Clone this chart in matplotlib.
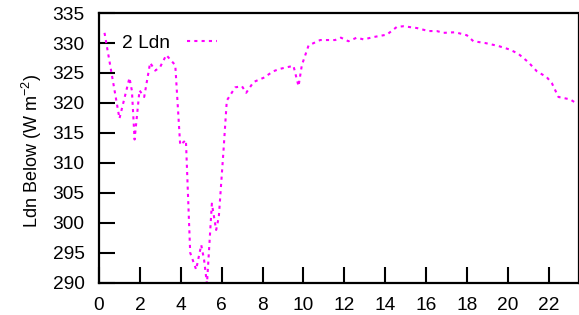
import matplotlib

matplotlib.use("Agg")
import matplotlib.pyplot as plt

# -----------------------------------------------------------------------------
# Data
# -----------------------------------------------------------------------------

hours = [
    0.27, 1.0, 1.49, 1.61, 1.74, 1.98, 2.21, 2.5, 2.75, 2.99, 3.29, 3.73,
    3.97, 4.25, 4.46, 4.75, 5.0, 5.14, 5.28, 5.52, 5.73, 5.86, 6.09, 6.25,
    6.66, 6.99, 7.2, 7.56, 8.05, 8.53, 8.86, 9.51, 9.76, 9.92, 10.25, 10.82,
    11.55, 11.83, 12.2, 12.61, 12.94, 13.43, 14.08, 14.57, 14.89, 15.55,
    16.11, 16.52, 16.85, 17.42, 17.99, 18.31, 18.89, 19.54, 20.1, 20.51,
    21.0, 21.41, 21.9, 22.15, 22.47, 23.04, 23.37,
]
ldn_below = [
    331.7, 317.4, 324.2, 322.0, 313.9, 322.1, 321.0, 326.7, 325.4, 326.0,
    328.0, 326.3, 313.0, 313.8, 295.0, 292.2, 296.3, 293.8, 289.8, 303.2,
    298.8, 301.0, 312.1, 320.4, 322.6, 322.8, 321.7, 323.5, 324.2, 325.3,
    325.7, 326.2, 322.8, 326.3, 329.6, 330.5, 330.5, 330.9, 330.3, 330.9,
    330.6, 331.0, 331.4, 332.7, 332.8, 332.5, 332.0, 332.0, 331.7, 331.8,
    331.3, 330.3, 330.0, 329.5, 328.9, 328.2, 326.8, 325.3, 324.3, 323.3,
    321.0, 320.6, 319.9,
]

X_TICKS = list(range(0, 23, 2))
Y_TICKS = list(range(290, 336, 5))

FONT_SIZE = 13.8
LABEL_SIZE = 13
LINE_COLOR = "#ff00ff"

plt.rcParams["font.family"] = ["Liberation Sans", "DejaVu Sans"]
plt.rcParams["mathtext.fontset"] = "custom"
plt.rcParams["mathtext.rm"] = "Liberation Sans"
plt.rcParams["mathtext.it"] = "Liberation Sans"

fig = plt.figure(figsize=(5.79, 3.15), dpi=100)
ax = fig.add_axes([0.171, 0.1025, 0.827, 0.856])

ax.plot(
    hours,
    ldn_below,
    color=LINE_COLOR,
    linewidth=1.5,
    linestyle=(0, (1.5, 2.0)),
    label="2 Ldn",
)

ax.set_xlim(0, 23.42)
ax.set_ylim(290, 335)
ax.set_xticks(X_TICKS)
ax.set_yticks(Y_TICKS)

ax.tick_params(
    axis="both",
    direction="in",
    length=11.5,
    width=1.5,
    labelsize=FONT_SIZE,
    top=False,
    right=False,
)
ax.tick_params(axis="x", pad=10)
ax.tick_params(axis="y", pad=10.5)

for side in ("left", "bottom", "top"):
    ax.spines[side].set_linewidth(1.6)
ax.spines["right"].set_linewidth(0.9)

ax.set_ylabel("Ldn Below (W m$^{-2}$)", fontsize=LABEL_SIZE)
ax.yaxis.set_label_coords(-0.114, 0.49)

ax.legend(
    loc="center left",
    bbox_to_anchor=(0.049, 0.889),
    frameon=False,
    markerfirst=False,
    fontsize=FONT_SIZE,
    handlelength=1.6,
    handletextpad=0.85,
    borderpad=0,
    borderaxespad=0,
)

fig.savefig("out.png", dpi=100)
